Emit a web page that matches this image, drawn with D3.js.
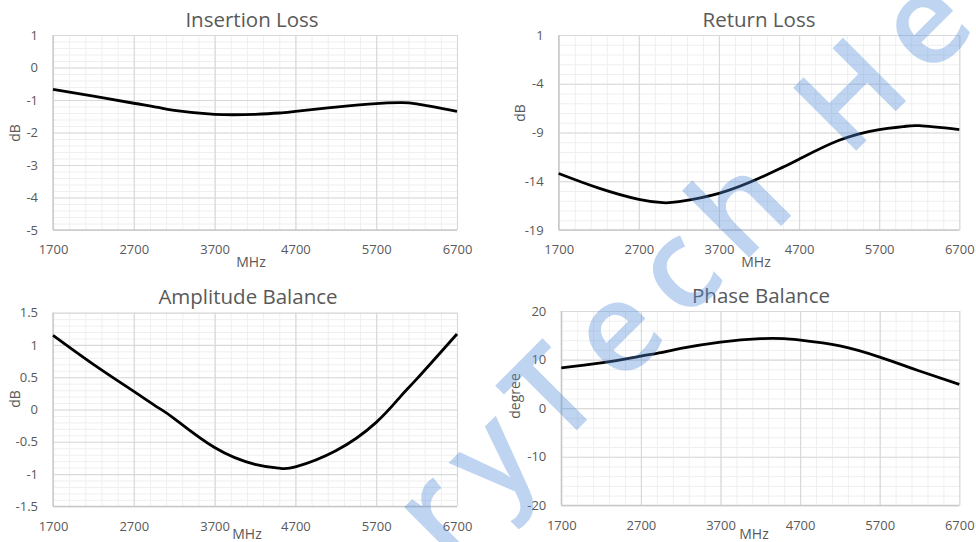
<!DOCTYPE html>
<html>
<head>
<meta charset="utf-8">
<script src="https://cdn.jsdelivr.net/npm/d3@7"></script>
<style>
  body { margin: 0; background: #fff; }
  svg { display: block; font-family: "Open Sans", sans-serif; }
  .tick text { fill: #595959; font-size: 13px; }
  .title { fill: #595959; font-size: 20.5px; }
  .axis-label { fill: #595959; font-size: 14px; }
</style>
</head>
<body>
<svg width="976" height="542"></svg>
<script>
// frequency points (MHz) shared by all four curves
var freq = [1700, 2200, 2700, 3000, 3200, 3700, 4200, 4500, 4700, 5200, 5700, 6000, 6200, 6700];
var xTicks = [1700, 2700, 3700, 4700, 5700, 6700];

// values
var insertionLoss = [-0.67, -0.88, -1.10, -1.23, -1.32, -1.44, -1.44, -1.40, -1.35, -1.22, -1.11, -1.08, -1.12, -1.35];
var returnLoss    = [-13.2, -14.7, -15.85, -16.2, -16.1, -15.25, -13.7, -12.55, -11.75, -9.8, -8.7, -8.4, -8.3, -8.7];
var ampBalance    = [1.15, 0.70, 0.28, 0.03, -0.14, -0.59, -0.85, -0.91, -0.89, -0.64, -0.20, 0.20, 0.47, 1.17];
var phaseBalance  = [8.3, 9.3, 10.7, 11.6, 12.3, 13.6, 14.3, 14.3, 14.0, 12.8, 10.5, 8.8, 7.65, 4.9];

var ilTicks = [1, 0, -1, -2, -3, -4, -5];
var rlTicks = [1, -4, -9, -14, -19];
var abTicks = [1.5, 1, 0.5, 0, -0.5, -1, -1.5];
var pbTicks = [20, 10, 0, -10, -20];

var svg = d3.select('svg');

// layout of the four panels
var charts = [
    {title: 'Insertion Loss', ylabel: 'dB', values: insertionLoss, ticks: ilTicks, minor: 0.2,
     box: {l: 53, r: 457, t: 35, b: 230}, titleX: 252, titleY: 27, yLabX: 15, yLabY: 133, xLabX: 251},
    {title: 'Return Loss', ylabel: 'dB', values: returnLoss, ticks: rlTicks, minor: 1,
     box: {l: 558.7, r: 959.3, t: 35, b: 230}, titleX: 759, titleY: 27, yLabX: 520, yLabY: 113, xLabX: 756},
    {title: 'Amplitude Balance', ylabel: 'dB', values: ampBalance, ticks: abTicks, minor: 0.1,
     box: {l: 53, r: 457, t: 312.7, b: 506.3}, titleX: 248, titleY: 304, yLabX: 15, yLabY: 399, xLabX: 247},
    {title: 'Phase Balance', ylabel: 'degree', values: phaseBalance, ticks: pbTicks, minor: 2,
     box: {l: 561.3, r: 959.3, t: 311, b: 505.3}, titleX: 761, titleY: 303, yLabX: 515, yLabY: 396, xLabX: 754}
];

charts.forEach(function(c) {
    var b = c.box;
    var yMin = d3.min(c.ticks), yMax = d3.max(c.ticks);
    var xScale = d3.scaleLinear().domain([1700, 6700]).range([b.l, b.r]);
    var yScale = d3.scaleLinear().domain([yMin, yMax]).range([b.b, b.t]);
    var g = svg.append('g');

    var minorX = d3.range(1700, 6700.1, 200);
    var minorY = d3.range(0, Math.round((yMax - yMin) / c.minor) + 1).map(function(i) { return yMin + i * c.minor; });

    // minor grid
    g.append('g').attr('class', 'grid minor')
        .attr('transform', 'translate(0,' + b.b + ')')
        .call(d3.axisBottom(xScale).tickValues(minorX).tickSize(-(b.b - b.t)).tickFormat(''));
    g.append('g').attr('class', 'grid minor')
        .attr('transform', 'translate(' + b.l + ',0)')
        .call(d3.axisLeft(yScale).tickValues(minorY).tickSize(-(b.r - b.l)).tickFormat(''));
    // major grid
    g.append('g').attr('class', 'grid major')
        .attr('transform', 'translate(0,' + b.b + ')')
        .call(d3.axisBottom(xScale).tickValues(xTicks).tickSize(-(b.b - b.t)).tickFormat(''));
    g.append('g').attr('class', 'grid major')
        .attr('transform', 'translate(' + b.l + ',0)')
        .call(d3.axisLeft(yScale).tickValues(c.ticks).tickSize(-(b.r - b.l)).tickFormat(''));

    g.selectAll('.grid .domain').remove();
    g.selectAll('.grid.minor line').attr('stroke', '#efefef').attr('stroke-width', 1);
    g.selectAll('.grid.major line').attr('stroke', '#d9d9d9').attr('stroke-width', 1.2);

    // axis lines left and bottom
    g.append('line').attr('x1', b.l).attr('x2', b.l).attr('y1', b.t).attr('y2', b.b)
        .attr('stroke', '#c8c8c8').attr('stroke-width', 1.3);
    g.append('line').attr('x1', b.l).attr('x2', b.r).attr('y1', b.b).attr('y2', b.b)
        .attr('stroke', '#c8c8c8').attr('stroke-width', 1.3);

    // tick labels
    var xAxis = g.append('g').attr('transform', 'translate(0,' + b.b + ')')
        .call(d3.axisBottom(xScale).tickValues(xTicks).tickSize(0).tickPadding(15)
            .tickFormat(function(d) { return String(d); }));
    var yAxis = g.append('g').attr('transform', 'translate(' + b.l + ',0)')
        .call(d3.axisLeft(yScale).tickValues(c.ticks).tickSize(0).tickPadding(15)
            .tickFormat(function(d) { return String(d); }));
    [xAxis, yAxis].forEach(function(a) {
        a.attr('font-family', null).attr('font-size', null);
        a.select('.domain').remove();
    });

    // curve
    var line = d3.line()
        .x(function(d, i) { return xScale(freq[i]); })
        .y(function(d) { return yScale(d); })
        .curve(d3.curveNatural);
    g.append('path').datum(c.values)
        .attr('d', line)
        .attr('fill', 'none')
        .attr('stroke', '#000')
        .attr('stroke-width', 2.8);

    // titles
    g.append('text').attr('class', 'title')
        .attr('x', c.titleX).attr('y', c.titleY)
        .attr('text-anchor', 'middle').text(c.title);
    g.append('text').attr('class', 'axis-label')
        .attr('text-anchor', 'middle')
        .attr('transform', 'translate(' + c.xLabX + ',' + Math.min(b.b + 37, 539) + ')')
        .text('MHz');
    g.append('text').attr('class', 'axis-label')
        .attr('text-anchor', 'middle')
        .attr('transform', 'translate(' + (c.yLabX + 5) + ',' + c.yLabY + ')rotate(-90)')
        .text(c.ylabel);
});

// watermark
var wmG = svg.append('g').attr('transform', 'translate(557,450)rotate(-45)');
var wm = wmG.append('text')
    .attr('font-family', 'Open Sans, sans-serif')
    .attr('font-size', 125)
    .attr('font-weight', 600)
    .attr('letter-spacing', 19)
    .attr('fill', '#4f8ad6')
    .attr('fill-opacity', 0.37)
    .text('HenryTech He');
var tPos = wm.node().getStartPositionOfChar(5);
wm.attr('x', -tPos.x);
</script>
</body>
</html>
